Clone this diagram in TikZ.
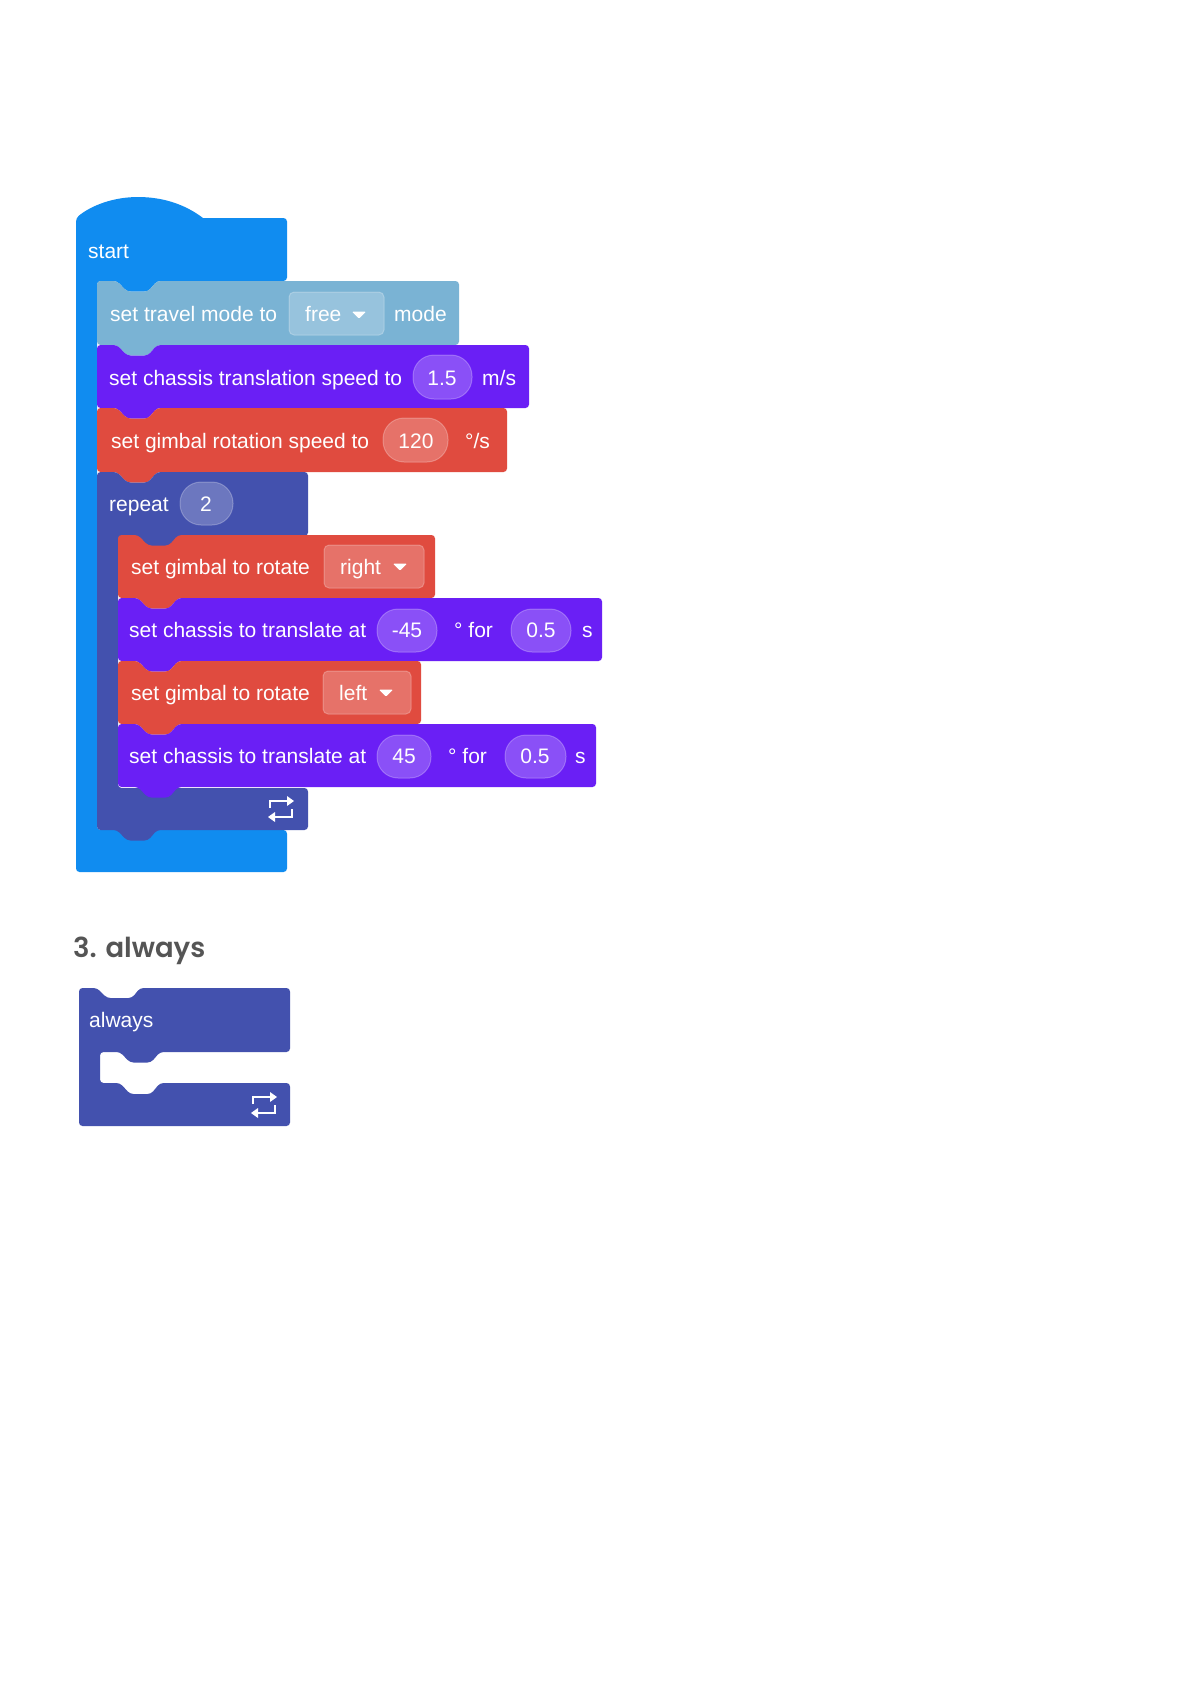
\documentclass[tikz,border=0pt]{standalone}
\usepackage{fontspec}
\setmainfont{Liberation Sans}
\newfontfamily\headfont{Poppins SemiBold}
\definecolor{cStart}{HTML}{108CF0}
\definecolor{cTravel}{HTML}{7AB3D4}
\definecolor{cChassis}{HTML}{6A1FF5}
\definecolor{cGimbal}{HTML}{E04B3F}
\definecolor{cRepeat}{HTML}{4351AE}
\definecolor{cHead}{HTML}{555555}
\tikzset{
  blockshape/.style={rounded corners=3.5pt,line width=0pt},
  lbl/.style={anchor=base west,inner sep=0pt,text=white,font=\fontsize{21}{24}\selectfont},
  clbl/.style={anchor=base,inner sep=0pt,text=white,font=\fontsize{21}{24}\selectfont},
  pillshape/.style={fill=white,fill opacity=.22,draw=white,draw opacity=.25,line width=1pt,rounded corners=21pt},
  chipshape/.style={fill=white,fill opacity=.22,draw=white,draw opacity=.25,line width=1pt,rounded corners=5pt},
  heading/.style={anchor=base west,inner sep=0pt,text=cHead,font=\headfont\fontsize{27.5}{32}\selectfont},
}
\newcommand{\stackblk}[5]{%
  \fill[blockshape,#1] (#2,#3) -- ++(20,0) -- ++(10,10.5) -- ++(21,0) -- ++(9,-10.5) -- (#4,#3) -- (#4,#5)
    -- ({#2+60},#5) -- ++(-9,10.5) -- ++(-21,0) -- ++(-10,-10.5) -- (#2,#5) -- cycle;}
\newcommand{\pill}[4]{\draw[pillshape] (#1,#3) rectangle (#2,#4);}
\newcommand{\chip}[4]{\draw[chipshape] (#1,#3) rectangle (#2,#4);}
\newcommand{\tri}[2]{\fill[white,rounded corners=1pt] ({#1-7},{#2-3.5}) -- ({#1+7},{#2-3.5}) -- (#1,{#2+3.5}) -- cycle;}
\newcommand{\loopicon}[2]{%
  \begin{scope}[shift={(#1,#2)}]
    \draw[white,line width=2.6pt] (-11,-1) -- (-11,-8) -- (7,-8);
    \fill[white] (6,-13) -- (13,-8) -- (6,-3) -- cycle;
    \draw[white,line width=2.6pt] (11,0) -- (11,8) -- (-7,8);
    \fill[white] (-6,3) -- (-13,8) -- (-6,13) -- cycle;
  \end{scope}}
\begin{document}
\begin{tikzpicture}[x=1pt,y=-1pt]
\useasboundingbox (0,0) rectangle (1191,1684);
\fill[white] (0,0) rectangle (1191,1684);
% start
\fill[cStart] (76,218) .. controls (92,205) and (114,197) .. (138,197) .. controls (164,197) and (186,205) .. (203,218)
  [rounded corners=3.5pt] -- (287,218) -- (287,281) -- (157,281) -- (148,291.5) -- (127,291.5) -- (117,281) -- (97,281) -- (97,830) -- (287,830) -- (287,872) -- (76,872) -- cycle;
\stackblk{cTravel}{97}{281}{459}{345}
\stackblk{cChassis}{97}{345}{529}{408}
\stackblk{cGimbal}{97}{408}{507}{472}
% repeat
\fill[blockshape,cRepeat] (97,472) -- ++(20,0) -- ++(10,10.5) -- ++(21,0) -- ++(9,-10.5) -- (308,472) -- (308,536)
  -- (178,536) -- (169,546.5) -- (148,546.5) -- (138,536) -- (118,536) -- (118,788) -- (308,788) -- (308,830)
  -- (157,830) -- (148,840.5) -- (127,840.5) -- (117,830) -- (97,830) -- cycle;
\stackblk{cGimbal}{118}{535}{435}{598}
\stackblk{cChassis}{118}{598}{602}{661}
\stackblk{cGimbal}{118}{661}{421}{724}
\stackblk{cChassis}{118}{724}{596}{787}
\loopicon{281}{809}
% always
\fill[blockshape,cRepeat] (79,988) -- ++(18,0) -- ++(10,10) -- ++(25,0) -- ++(8,-10) -- (290,988) -- (290,1052)
  -- (160,1052) -- (151,1062.5) -- (130,1062.5) -- (120,1052) -- (100,1052) -- (100,1083) -- (120,1083) -- (130,1094) -- (151,1094) -- (160,1083)
  -- (290,1083) -- (290,1126) -- (79,1126) -- cycle;
\loopicon{264}{1105}
% chips and pills
\chip{289}{384}{292}{335}
\pill{413}{472}{355}{399}
\pill{383}{448}{418}{462}
\pill{180}{233}{482}{525}
\chip{324}{424}{545}{588}
\pill{377}{437}{609}{652}
\pill{511}{571}{609}{652}
\chip{323}{411}{671}{714}
\pill{377}{431}{735}{778}
\pill{505}{566}{735}{778}
\tri{359}{315}
\tri{400}{567}
\tri{386}{693}
% text
\node[lbl] (tStart) at (88,258) {start};
\node[lbl] (tTravel) at (110,321) {set travel mode to};
\node[lbl] (tFree) at (305,321) {free};
\node[lbl] (tMode) at (394,321) {mode};
\node[lbl] (tSpeed) at (109,385) {set chassis translation speed to};
\node[clbl] (vSpeed) at (442,385) {1.5};
\node[lbl] (tMs) at (482,385) {m/s};
\node[lbl] (tRot) at (111,448) {set gimbal rotation speed to};
\node[clbl] (vRot) at (416,448) {120};
\node[lbl] (tDs) at (465,448) {°/s};
\node[lbl] (tRepeat) at (109,511) {repeat};
\node[clbl] (vRepeat) at (206,511) {2};
\node[lbl] (tRot1) at (131,574) {set gimbal to rotate};
\node[lbl] (tRight) at (340,574) {right};
\node[lbl] (tTr1) at (129,637) {set chassis to translate at};
\node[clbl] (vTr1) at (407,637) {-45};
\node[lbl] (tFor1) at (454,637) {° for};
\node[clbl] (vT1) at (541,637) {0.5};
\node[lbl] (tS1) at (582,637) {s};
\node[lbl] (tRot2) at (131,700) {set gimbal to rotate};
\node[lbl] (tLeft) at (339,700) {left};
\node[lbl] (tTr2) at (129,763) {set chassis to translate at};
\node[clbl] (vTr2) at (404,763) {45};
\node[lbl] (tFor2) at (448,763) {° for};
\node[clbl] (vT2) at (535,763) {0.5};
\node[lbl] (tS2) at (575,763) {s};
\node[heading] (tHead) at (73,957) {3. always};
\node[lbl] (tAlways) at (89,1027) {always};
\end{tikzpicture}
\end{document}
